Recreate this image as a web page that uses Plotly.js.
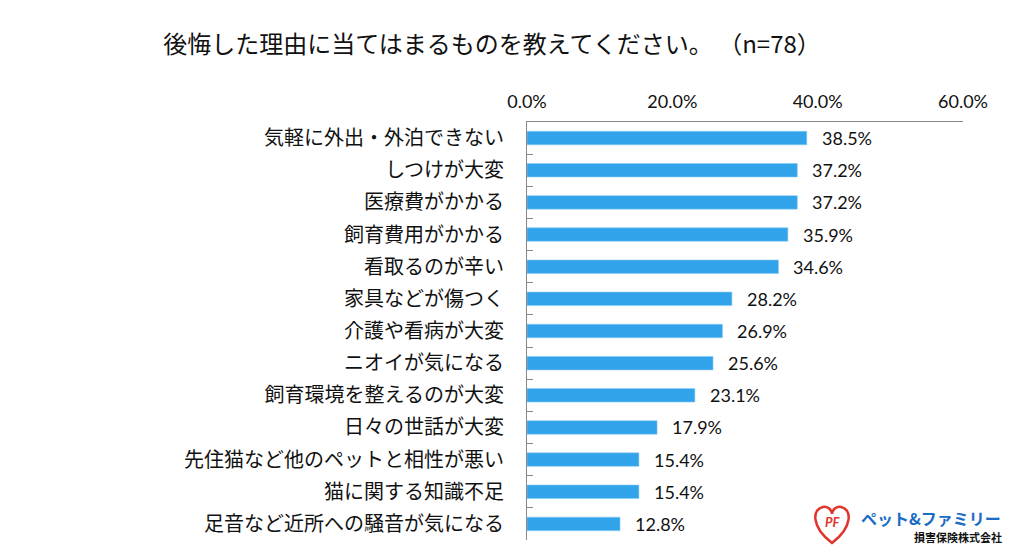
<!DOCTYPE html>
<html><head><meta charset="utf-8">
<script src="https://cdn.plot.ly/plotly-3.0.1.min.js"></script>
<style>html,body{margin:0;padding:0;background:#fff}</style>
</head><body>
<div id="chart" style="width:1024px;height:560px"></div>
<script>
const categories = [
  "気軽に外出・外泊できない",
  "しつけが大変",
  "医療費がかかる",
  "飼育費用がかかる",
  "看取るのが辛い",
  "家具などが傷つく",
  "介護や看病が大変",
  "ニオイが気になる",
  "飼育環境を整えるのが大変",
  "日々の世話が大変",
  "先住猫など他のペットと相性が悪い",
  "猫に関する知識不足",
  "足音など近所への騒音が気になる"
];
const values = [38.5, 37.2, 37.2, 35.9, 34.6, 28.2, 26.9, 25.6, 23.1, 17.9, 15.4, 15.4, 12.8];
const tickVals = [0, 20, 40, 60];
const tickText = ["0.0%", "20.0%", "40.0%", "60.0%"];
const titleText = "後悔した理由に当てはまるものを教えてください。 （n=78）";
const logoName = "ペット&amp;ファミリー";
const logoSub = "損害保険株式会社";

const FONT = "'Noto Sans CJK JP', 'Noto Sans', sans-serif";
const NUMFONT = "'Lato', 'Noto Sans', sans-serif";

// plot area in pixels (for placing the logo)
const L = 527, R = 963, T = 122, B = 540;
const px = x => (x - L) / (R - L);
const py = y => (B - y) / (B - T);

const trace = {
  type: 'bar', orientation: 'h',
  x: values, y: categories,
  marker: {color: '#31a3ea', line: {color: '#8ccbf3', width: 0.6}},
  width: 0.42,
  hoverinfo: 'none'
};

const annotations = values.map((v, i) => ({
  x: v, y: categories[i], xref: 'x', yref: 'y',
  text: v.toFixed(1) + '%', showarrow: false,
  xanchor: 'left', xshift: 13,
  font: {family: NUMFONT, size: 18, color: '#111'}
}));

annotations.push({
  xref: 'paper', yref: 'paper', x: px(859), y: py(518), xanchor: 'left', yanchor: 'middle',
  text: '<b>' + logoName + '</b>', showarrow: false,
  font: {family: FONT, size: 16, color: '#1b6cc4'}
});
annotations.push({
  xref: 'paper', yref: 'paper', x: px(1004), y: py(537), xanchor: 'right', yanchor: 'middle',
  text: '<b>' + logoSub + '</b>', showarrow: false,
  font: {family: FONT, size: 11, color: '#111'}
});
annotations.push({
  xref: 'paper', yref: 'paper', x: px(833), y: py(522), xanchor: 'center', yanchor: 'middle',
  text: '<b><i>PF</i></b>', showarrow: false,
  font: {family: NUMFONT, size: 13, color: '#e2332d'}
});

const layout = {
  width: 1024, height: 560,
  margin: {l: L, r: 1024 - R, t: T, b: 560 - B},
  paper_bgcolor: '#fff', plot_bgcolor: '#fff',
  showlegend: false,
  title: {text: titleText, x: 492 / 1024, xanchor: 'center', xref: 'container',
          y: 1 - 45 / 560, yanchor: 'middle', yref: 'container',
          font: {family: FONT, size: 24, color: '#111'}},
  xaxis: {
    side: 'top', range: [0, 60], tickvals: tickVals, ticktext: tickText,
    showgrid: false, zeroline: false, showline: true, linecolor: '#888', linewidth: 1,
    ticks: '', tickfont: {family: NUMFONT, size: 18, color: '#111'}, ticklabelstandoff: 6,
    fixedrange: true
  },
  yaxis: {
    type: 'category', autorange: 'reversed',
    showgrid: false, zeroline: false, showline: true, linecolor: '#888', linewidth: 1,
    ticks: 'inside', tickson: 'boundaries', ticklen: 6, tickcolor: '#888',
    tickfont: {family: FONT, size: 20, color: '#111'}, ticklabelstandoff: 18,
    fixedrange: true
  },
  annotations: annotations,
  shapes: [{
    type: 'path', xref: 'paper', yref: 'paper',
    xsizemode: 'pixel', ysizemode: 'pixel', xanchor: px(832), yanchor: py(524),
    path: 'M 0 -19 C -21 -3, -20 15, -9 17 C -3 18, 0 13, 0 10 C 0 13, 3 18, 9 17 C 20 15, 21 -3, 0 -19 Z',
    line: {color: '#e2332d', width: 2.5}, fillcolor: 'rgba(0,0,0,0)'
  }]
};

Plotly.newPlot('chart', [trace], layout, {displayModeBar: false, staticPlot: true});
</script>
</body></html>
